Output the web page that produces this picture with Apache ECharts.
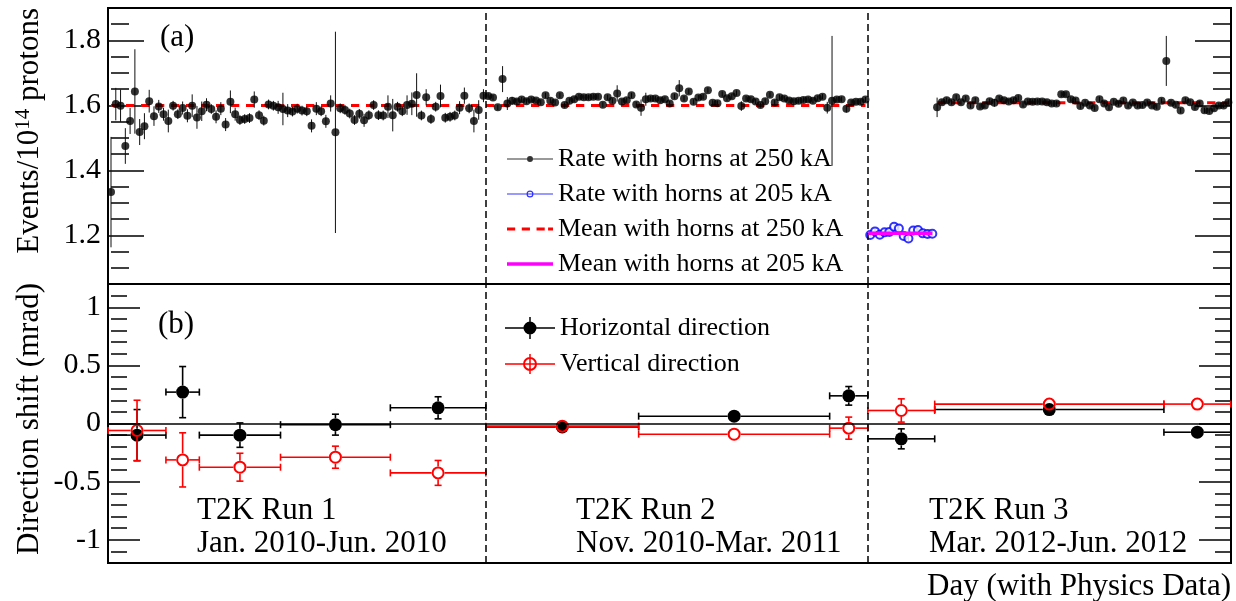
<!DOCTYPE html>
<html><head><meta charset="utf-8">
<script src="https://cdn.jsdelivr.net/npm/echarts@6.0.0/dist/echarts.min.js"></script>
<style>html,body{margin:0;padding:0;background:#fff}#c{width:1236px;height:601px}</style>
</head><body><div id="c"></div>
<script>
// ---------------- data ----------------
// day index of the first point of each period
const run1Start = 0, run2Start = 79, lowStart = 159, run3Start = 173;
const dayMin = -0.63, dayMax = 234.55;
const runBoundaries = [78.5, 158.5];

// panel (a): events / 1e14 protons, horns at 250 kA
const run1Rate = [1.333,1.604,1.599,1.475,1.552,1.643,1.518,1.536,1.613,1.567,1.597,1.573,1.552,1.599,1.573,1.592,1.568,1.599,1.563,1.582,
  1.602,1.589,1.565,1.590,1.541,1.611,1.573,1.555,1.558,1.561,1.618,1.570,1.553,1.603,1.599,1.594,1.589,1.584,1.581,1.590,
  1.584,1.582,1.537,1.590,1.582,1.551,1.606,1.517,1.591,1.586,1.575,1.555,1.574,1.554,1.570,1.601,1.570,1.569,1.596,1.570,
  1.596,1.582,1.601,1.605,1.632,1.569,1.625,1.558,1.596,1.629,1.562,1.565,1.569,1.593,1.630,1.591,1.552,1.586,1.630];
const run1Err = [0.17,0.05,0.05,0.055,0.04,0.13,0.04,0.04,0.035,0.03,
  0.02,0.02,0.035,0.015,0.015,0.02,0.02,0.035,0.035,0.03,
  0.02,0.015,0.02,0.02,0.02,0.035,0.02,0.015,0.015,0.015,
  0.025,0.015,0.015,0.015,0.015,0.02,0.05,0.02,0.015,0.015,
  0.015,0.015,0.02,0.02,0.015,0.02,0.025,0.31,0.015,0.015,
  0.015,0.015,0.015,0.02,0.015,0.015,0.015,0.015,0.035,0.05,
  0.015,0.015,0.03,0.035,0.067,0.015,0.025,0.015,0.015,0.035,
  0.015,0.015,0.015,0.02,0.025,0.015,0.035,0.03,0.02];
const run2Rate = [1.629,1.624,1.594,1.681,1.606,1.614,1.612,1.618,1.613,1.618,1.615,1.610,1.631,1.614,1.609,1.631,1.601,1.614,1.619,1.627,
  1.625,1.625,1.627,1.627,1.602,1.625,1.614,1.637,1.612,1.616,1.631,1.603,1.593,1.619,1.621,1.621,1.616,1.619,1.606,1.628,
  1.653,1.621,1.643,1.611,1.624,1.627,1.647,1.608,1.607,1.635,1.622,1.628,1.638,1.598,1.621,1.619,1.612,1.601,1.613,1.633,
  1.609,1.625,1.621,1.615,1.613,1.614,1.617,1.618,1.614,1.622,1.627,1.593,1.614,1.618,1.619,1.590,1.609,1.611,1.611,1.618];
const run2Err = [0.008,0.008,0.008,0.04,0.02,0.012,0.008,0.008,0.008,0.008,
  0.008,0.008,0.008,0.008,0.008,0.008,0.008,0.008,0.008,0.008,
  0.008,0.008,0.008,0.008,0.008,0.008,0.008,0.025,0.008,0.008,
  0.008,0.008,0.025,0.02,0.008,0.008,0.008,0.008,0.008,0.008,
  0.025,0.008,0.008,0.008,0.008,0.008,0.008,0.008,0.008,0.008,
  0.008,0.008,0.008,0.015,0.008,0.008,0.008,0.008,0.008,0.008,
  0.008,0.008,0.008,0.008,0.008,0.008,0.008,0.008,0.008,0.008,
  0.008,0.018,0.2,0.008,0.008,0.012,0.008,0.008,0.008,0.008];
const run3Rate = [1.594,1.610,1.616,1.610,1.625,1.610,1.621,1.600,1.616,1.597,1.600,1.613,1.608,1.621,1.616,1.612,1.616,1.623,1.603,1.612,
  1.611,1.612,1.612,1.610,1.606,1.606,1.634,1.634,1.619,1.615,1.598,1.608,1.600,1.592,1.619,1.606,1.594,1.611,1.605,1.615,
  1.600,1.609,1.600,1.601,1.609,1.600,1.596,1.614,1.737,1.608,1.602,1.584,1.616,1.610,1.595,1.606,1.585,1.583,1.591,1.600,
  1.600,1.610];
const run3Err = [0.03,0.008,0.008,0.008,0.008,0.008,0.008,0.008,0.008,0.008,
  0.008,0.008,0.012,0.008,0.008,0.008,0.008,0.008,0.008,0.008,
  0.008,0.008,0.008,0.008,0.008,0.008,0.008,0.008,0.008,0.008,
  0.008,0.008,0.008,0.008,0.008,0.008,0.008,0.008,0.008,0.008,
  0.008,0.008,0.008,0.008,0.008,0.008,0.008,0.008,0.077,0.008,
  0.008,0.008,0.008,0.008,0.008,0.008,0.008,0.008,0.008,0.008,
  0.008,0.008];
// horns at 205 kA
const lowRate = [1.201,1.212,1.202,1.209,1.210,1.226,1.221,1.198,1.190,1.215,1.216,1.206,1.204,1.205];
const lowErr  = [0.008,0.008,0.008,0.008,0.008,0.012,0.012,0.008,0.008,0.008,0.008,0.008,0.008,0.008];
// means: [first day, last day, value]
const mean250Runs12 = [0, 158, 1.600];
const mean250Run3   = [173, 234, 1.608];
const mean205       = [158.6, 172, 1.206];

// panel (b): direction shift (mrad) per period
const binLow  = [-0.6, 11.5, 18.5, 35.5, 58.5, 78.5, 110.5, 150.5, 158.5, 172.5, 220.5];
const binHigh = [11.5, 18.5, 35.5, 58.5, 78.5, 110.5, 150.5, 158.5, 172.5, 220.5, 234.5];
const horizShift = [-0.10, 0.27, -0.10, -0.01, 0.135, -0.03, 0.063, 0.238, -0.132, 0.12, -0.075];
const horizErr   = [0.22, 0.22, 0.105, 0.09, 0.095, 0.02, 0.015, 0.08, 0.086, 0.015, 0.04];
const vertShift  = [-0.06, -0.313, -0.376, -0.29, -0.425, -0.023, -0.092, -0.04, 0.112, 0.167, 0.167];
const vertErr    = [0.26, 0.233, 0.12, 0.095, 0.107, 0.02, 0.015, 0.095, 0.1, 0.02, 0.04];

// tick labels
const ticksA = [1.2, 1.4, 1.6, 1.8];
const ticksB = [-1, -0.5, 0, 0.5, 1];

// ---------------- build ----------------
function pts(start, vals, errs) {
  return vals.map((v, i) => [start + i, v, errs[i]]);
}
const hi = [].concat(pts(run1Start, run1Rate, run1Err), pts(run2Start, run2Rate, run2Err), pts(run3Start, run3Rate, run3Err));
const lo = pts(lowStart, lowRate, lowErr);
const horizData = binLow.map((l, i) => [(l + binHigh[i]) / 2, horizShift[i], l, binHigh[i], horizErr[i]]);
const vertData  = binLow.map((l, i) => [(l + binHigh[i]) / 2, vertShift[i], l, binHigh[i], vertErr[i]]);

const SERIF = '"Liberation Serif", "Times New Roman", serif';

function vErr(color) {
  return function (params, api) {
    const x = api.value(0), y = api.value(1), e = api.value(2);
    const a = api.coord([x, y + e]), b = api.coord([x, y - e]);
    return {type: 'line', shape: {x1: a[0], y1: a[1], x2: b[0], y2: b[1]}, style: {stroke: color, lineWidth: 1}};
  };
}
function crossErr(color, filled) {
  return function (params, api) {
    const xc = api.value(0), y = api.value(1), xl = api.value(2), xh = api.value(3), e = api.value(4);
    const c = api.coord([xc, y]), L = api.coord([xl, y]), H = api.coord([xh, y]);
    const T = api.coord([xc, y + e]), B = api.coord([xc, y - e]);
    const r = 6.5, cap = 3.5, lw = 1.6;
    const kids = [];
    const seg = (x1, y1, x2, y2) => kids.push({type: 'line', shape: {x1, y1, x2, y2}, style: {stroke: color, lineWidth: lw}});
    if (c[0] - r > L[0]) seg(L[0], c[1], c[0] - r, c[1]);
    if (H[0] > c[0] + r) seg(c[0] + r, c[1], H[0], c[1]);
    seg(L[0], c[1] - cap, L[0], c[1] + cap);
    seg(H[0], c[1] - cap, H[0], c[1] + cap);
    if (T[1] < c[1] - r) { seg(c[0], T[1], c[0], c[1] - r); seg(c[0] - cap, T[1], c[0] + cap, T[1]); }
    if (B[1] > c[1] + r) { seg(c[0], c[1] + r, c[0], B[1]); seg(c[0] - cap, B[1], c[0] + cap, B[1]); }
    kids.push({type: 'circle', shape: {cx: c[0], cy: c[1], r: filled ? r : r - 1},
      style: {fill: filled ? color : 'none', stroke: color, lineWidth: filled ? 0 : 2}});
    return {type: 'group', children: kids};
  };
}

function yAx(grid, pos, min, max, minorInt, major, majLen, minLen, labels) {
  return [
    {type: 'value', gridIndex: grid, position: pos, min, max, interval: minorInt,
     axisLine: {show: false}, splitLine: {show: false}, axisLabel: {show: false},
     axisTick: {show: true, inside: true, length: minLen, lineStyle: {color: '#000', width: 1.5}}},
    {type: 'value', gridIndex: grid, position: pos, min, max, interval: minorInt,
     axisLine: {show: false}, splitLine: {show: false},
     axisTick: {show: true, inside: true, length: majLen, customValues: major, lineStyle: {color: '#000', width: 1.5}},
     axisLabel: {show: labels, customValues: major, margin: 7, color: '#000', fontFamily: SERIF, fontSize: 30,
       formatter: v => String(+v.toFixed(2))}}
  ];
}
const yAxes = [].concat(
  yAx(0, 'left', 1.05, 1.9, 0.05, ticksA, 36, 18, true),
  yAx(0, 'right', 1.05, 1.9, 0.05, ticksA, 36, 18, false),
  yAx(1, 'left', -1.2, 1.2, 0.1, ticksB, 32, 16, true),
  yAx(1, 'right', -1.2, 1.2, 0.1, ticksB, 32, 16, false)
);
const xAx = g => ({type: 'value', gridIndex: g, min: dayMin, max: dayMax, axisLine: {show: false},
  axisTick: {show: false}, axisLabel: {show: false}, splitLine: {show: false}});

const dashed = {color: '#000', type: [7, 4], width: 1.5};
const boundaryLines = runBoundaries.map(d => ({xAxis: d, lineStyle: dashed}));

const ICON_HI = 'path://M0,6.5H46V7.5H0Z M26,7A3,3 0 1,1 20,7A3,3 0 1,1 26,7Z';
const ICON_LO = 'path://M0,6.5H46V7.5H0Z M26.5,7A3.5,3.5 0 1,1 19.5,7A3.5,3.5 0 1,1 26.5,7Z M25.3,7A2.3,2.3 0 1,0 20.7,7A2.3,2.3 0 1,0 25.3,7Z';
const ICON_M250 = 'path://M0,0h8.3v3h-8.3z M15,0h8.3v3h-8.3z M30,0h8.3v3h-8.3z M41.7,0h5v3h-5z';
const ICON_M205 = 'path://M0,0h46v3.5h-46z';
const ICON_H = 'path://M0,10.25H50V11.75H0Z M24.25,0H25.75V22H24.25Z M31.5,11A6.5,6.5 0 1,1 18.5,11A6.5,6.5 0 1,1 31.5,11Z';
const ICON_V = 'path://M0,10.25H50V11.75H0Z M24.25,1H25.75V21H24.25Z M32,11A7,7 0 1,1 18,11A7,7 0 1,1 32,11Z M30,11A5,5 0 1,0 20,11A5,5 0 1,0 30,11Z';

const txt = (x, y, text, extra) => Object.assign({type: 'text', x, y,
  style: Object.assign({text, fill: '#000', font: '31px ' + SERIF, verticalAlign: 'middle', align: 'left'}, extra || {})});

const option = {
  animation: false,
  backgroundColor: '#fff',
  grid: [
    {left: 108, top: 8, width: 1123, height: 276, show: true, borderColor: '#000', borderWidth: 2, outerBoundsMode: 'none'},
    {left: 108, top: 284, width: 1123, height: 279, show: true, borderColor: '#000', borderWidth: 2, outerBoundsMode: 'none'}
  ],
  xAxis: [xAx(0), xAx(1)],
  yAxis: yAxes,
  legend: [
    {orient: 'vertical', left: 502, top: 141, itemWidth: 46, itemHeight: 14, itemGap: 9, selectedMode: false,
     textStyle: {fontFamily: SERIF, fontSize: 26, color: '#000', lineHeight: 26},
     data: [
       {name: 'Rate with horns at 250 kA', icon: ICON_HI, itemStyle: {color: '#000', borderWidth: 0}},
       {name: 'Rate with horns at 205 kA', icon: ICON_LO, itemStyle: {color: '#0000ff', borderWidth: 0}},
       {name: 'Mean with horns at 250 kA', icon: ICON_M250, itemStyle: {color: '#ff0000', borderWidth: 0}},
       {name: 'Mean with horns at 205 kA', icon: ICON_M205, itemStyle: {color: '#ff00ff', borderWidth: 0}}
     ]},
    {orient: 'vertical', left: 500, top: 310, itemWidth: 50, itemHeight: 22, itemGap: 10, selectedMode: false,
     textStyle: {fontFamily: SERIF, fontSize: 26, color: '#000', lineHeight: 26},
     data: [
       {name: 'Horizontal direction', icon: ICON_H, itemStyle: {color: '#000', borderWidth: 0}},
       {name: 'Vertical direction', icon: ICON_V, itemStyle: {color: '#ff0000', borderWidth: 0}}
     ]}
  ],
  series: [
    {type: 'line', name: 'ref-a', xAxisIndex: 0, yAxisIndex: 1, data: [], z: 1,
     markLine: {silent: true, symbol: ['none', 'none'], label: {show: false}, data: boundaryLines}},
    {type: 'line', name: 'ref-b', xAxisIndex: 1, yAxisIndex: 5, data: [], z: 1,
     markLine: {silent: true, symbol: ['none', 'none'], label: {show: false},
       data: [{yAxis: 0, lineStyle: {color: '#000', type: 'solid', width: 1.5}}].concat(boundaryLines)}},
    {type: 'line', name: 'Mean with horns at 250 kA', xAxisIndex: 0, yAxisIndex: 1, symbol: 'none', z: 2,
     lineStyle: {color: '#ff0000', width: 3, type: [8.3, 6.7]}, itemStyle: {color: '#ff0000'},
     data: [[mean250Runs12[0], mean250Runs12[2]], [mean250Runs12[1], mean250Runs12[2]]]},
    {type: 'line', name: 'Mean with horns at 250 kA', xAxisIndex: 0, yAxisIndex: 1, symbol: 'none', z: 2,
     lineStyle: {color: '#ff0000', width: 3, type: [8.3, 6.7]}, itemStyle: {color: '#ff0000'},
     data: [[mean250Run3[0], mean250Run3[2]], [mean250Run3[1], mean250Run3[2]]]},
    {type: 'line', name: 'Mean with horns at 205 kA', xAxisIndex: 0, yAxisIndex: 1, symbol: 'none', z: 5,
     lineStyle: {color: '#ff00ff', width: 3.5}, itemStyle: {color: '#ff00ff'},
     data: [[mean205[0], mean205[2]], [mean205[1], mean205[2]]]},
    {type: 'custom', name: 'err250', xAxisIndex: 0, yAxisIndex: 1, z: 3, renderItem: vErr('#111'), data: hi,
     encode: {x: 0, y: 1}},
    {type: 'custom', name: 'err205', xAxisIndex: 0, yAxisIndex: 1, z: 3, renderItem: vErr('#0000ff'), data: lo,
     encode: {x: 0, y: 1}},
    {type: 'scatter', name: 'Rate with horns at 250 kA', xAxisIndex: 0, yAxisIndex: 1, z: 4,
     symbol: 'circle', symbolSize: 8, itemStyle: {color: '#000'}, data: hi.map(p => [p[0], p[1]])},
    {type: 'scatter', name: 'Rate with horns at 205 kA', xAxisIndex: 0, yAxisIndex: 1, z: 4,
     symbol: 'emptyCircle', symbolSize: 8, itemStyle: {color: '#0000ff', borderColor: '#0000ff', borderWidth: 1.4},
     data: lo.map(p => [p[0], p[1]])},
    {type: 'custom', name: 'Horizontal direction', xAxisIndex: 1, yAxisIndex: 5, z: 3,
     itemStyle: {color: '#000'}, renderItem: crossErr('#000', true), data: horizData, encode: {x: 0, y: 1}},
    {type: 'custom', name: 'Vertical direction', xAxisIndex: 1, yAxisIndex: 5, z: 4,
     itemStyle: {color: '#ff0000'}, renderItem: crossErr('#ff0000', false), data: vertData, encode: {x: 0, y: 1}}
  ],
  graphic: {elements: [
    txt(160, 38, '(a)'),
    txt(158, 325, '(b)'),
    txt(197, 511, 'T2K Run 1'), txt(197, 544, 'Jan. 2010-Jun. 2010'),
    txt(576, 511, 'T2K Run 2'), txt(576, 544, 'Nov. 2010-Mar. 2011'),
    txt(929, 511, 'T2K Run 3'), txt(929, 544, 'Mar. 2012-Jun. 2012'),
    txt(1231, 587, 'Day (with Physics Data)', {align: 'right'}),
    {type: 'text', x: 30, y: 8, rotation: Math.PI / 2,
     style: {text: 'Events/10{s|14} protons', fill: '#000', font: '31px ' + SERIF, align: 'right', verticalAlign: 'middle',
       lineHeight: 34, rich: {s: {fontSize: 21, fontFamily: SERIF, verticalAlign: 'top', lineHeight: 20, fill: '#000'}}}},
    {type: 'text', x: 30, y: 283, rotation: Math.PI / 2,
     style: {text: 'Direction shift (mrad)', fill: '#000', font: '31px ' + SERIF, align: 'right', verticalAlign: 'middle'}}
  ]}
};
const chart = echarts.init(document.getElementById('c'), null, {renderer: 'canvas'});
chart.setOption(option);
</script>
</body></html>
